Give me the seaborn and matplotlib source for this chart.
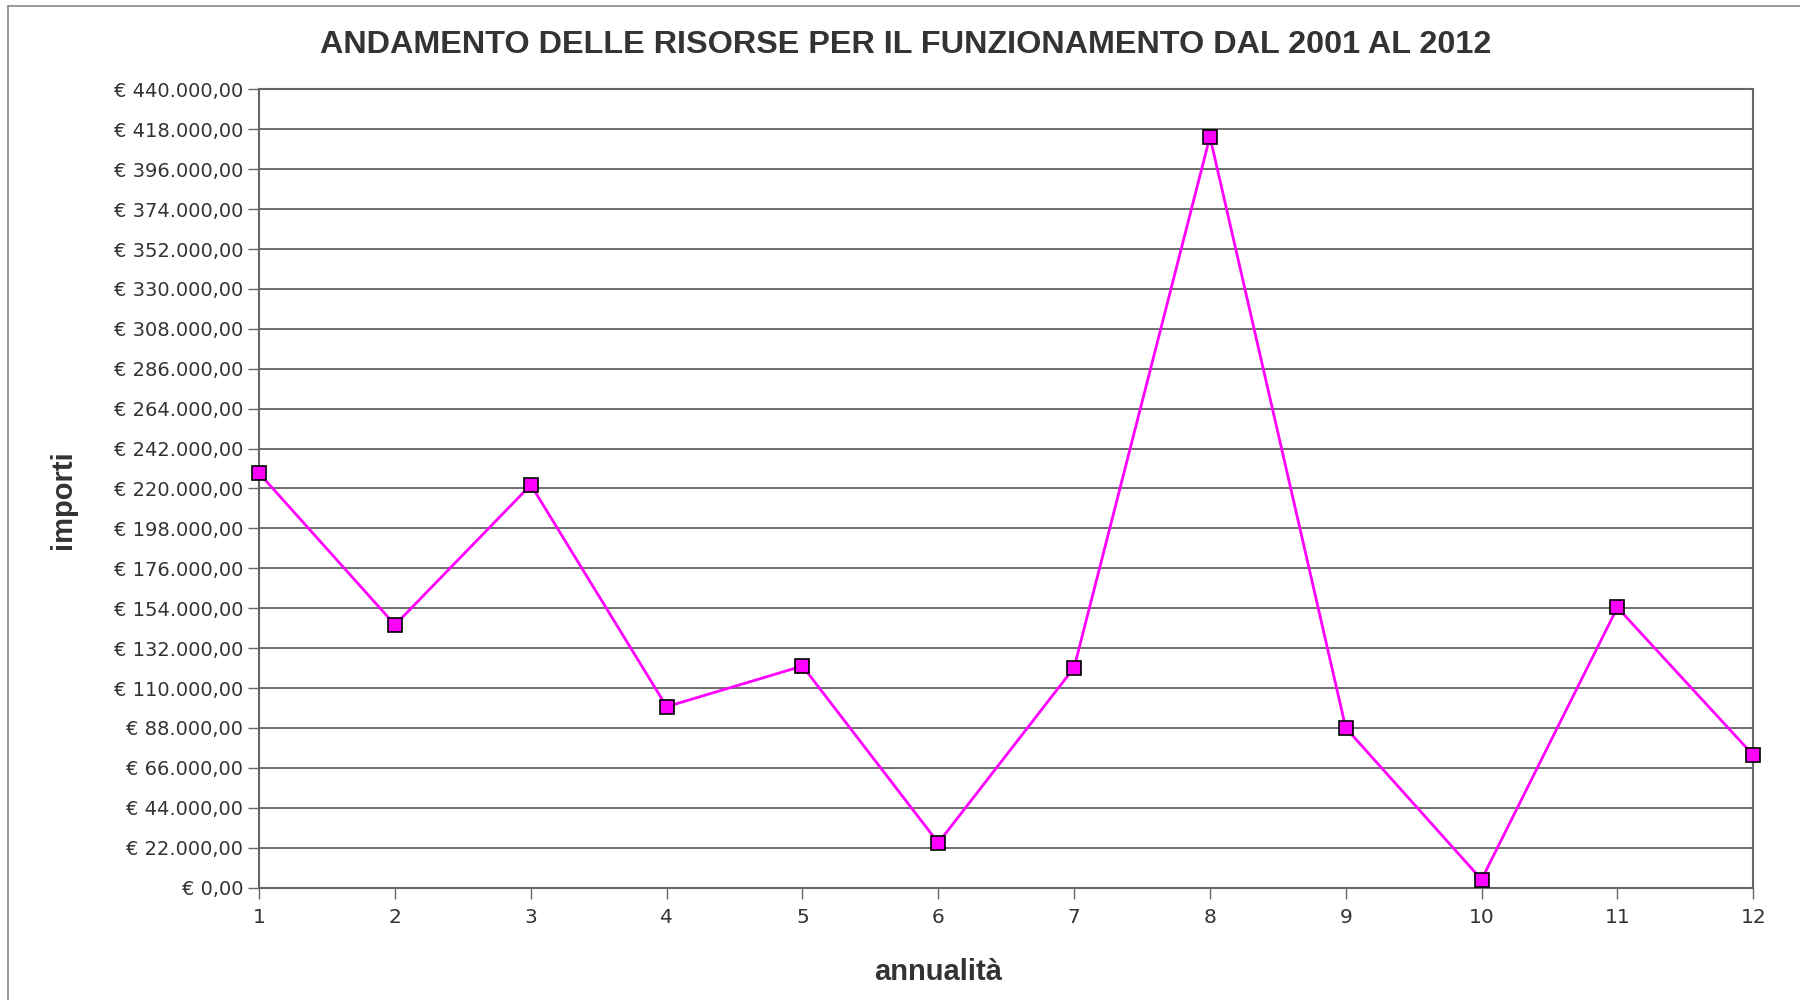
import numpy as np
import pandas as pd
import seaborn as sns
import matplotlib.pyplot as plt
from matplotlib.ticker import FuncFormatter
from matplotlib.lines import Line2D

anni = [1, 2, 3, 4, 5, 6, 7, 8, 9, 10, 11, 12]
importi = [228400, 144800, 222000, 99700, 122100, 24600,
           121200, 414000, 88000, 4400, 154400, 73000]

def euro(v, pos=None):
    """Format in italian style: € 440.000,00"""
    s = f"{v:,.2f}"
    s = s.replace(',', 'X').replace('.', ',').replace('X', '.')
    return '€ ' + s

df = pd.DataFrame({'annualità': anni, 'importi': importi})

sns.set_style('white')
plt.rcParams['font.family'] = ['DejaVu Sans']

fig = plt.figure(figsize=(18, 10), dpi=100)
ax = fig.add_axes([0.144, 0.1125, 0.830, 0.798])

sns.lineplot(data=df, x='annualità', y='importi', ax=ax, color='#ff00ff',
             linewidth=2, marker='s', markersize=10, markerfacecolor='#ff00ff',
             markeredgecolor='#000000', markeredgewidth=1.2, clip_on=False, zorder=5)

ax.set_xlim(1, 12)
ax.set_ylim(0, 440000)
ax.set_xticks(anni)
ax.set_yticks(np.arange(0, 440001, 22000))
ax.yaxis.set_major_formatter(FuncFormatter(euro))
ax.grid(axis='y', color='#555555', linewidth=1.2)
ax.set_axisbelow(True)

for s in ax.spines.values():
    s.set_color('#666666')
    s.set_linewidth(1.5)

ax.tick_params(axis='both', which='major', direction='out', length=8, width=1,
               color='#666666', labelsize=14, labelcolor='#333333', bottom=True, left=True)
ax.tick_params(axis='x', pad=7, labelsize=14.5)

ax.set_xlabel('')
ax.set_ylabel('')
lbl = dict(family=['Liberation Sans', 'DejaVu Sans'], fontweight='bold', color='#333333')
fig.text(0.521, 0.028, 'annualità', ha='center', va='center', fontsize=21, **lbl)
fig.text(0.035, 0.5, 'importi', ha='center', va='center', rotation=90, fontsize=21, **lbl)
fig.text(0.503, 0.955, 'ANDAMENTO DELLE RISORSE PER IL FUNZIONAMENTO DAL 2001 AL 2012',
         ha='center', va='center', fontsize=23.3, **lbl)

# cornice esterna
fig.add_artist(Line2D([0.0045, 0.0045], [0.0, 0.994], transform=fig.transFigure, color='#888888', lw=1.2))
fig.add_artist(Line2D([0.0045, 1.0], [0.994, 0.994], transform=fig.transFigure, color='#888888', lw=1.2))

fig.savefig('out.png', dpi=100)
